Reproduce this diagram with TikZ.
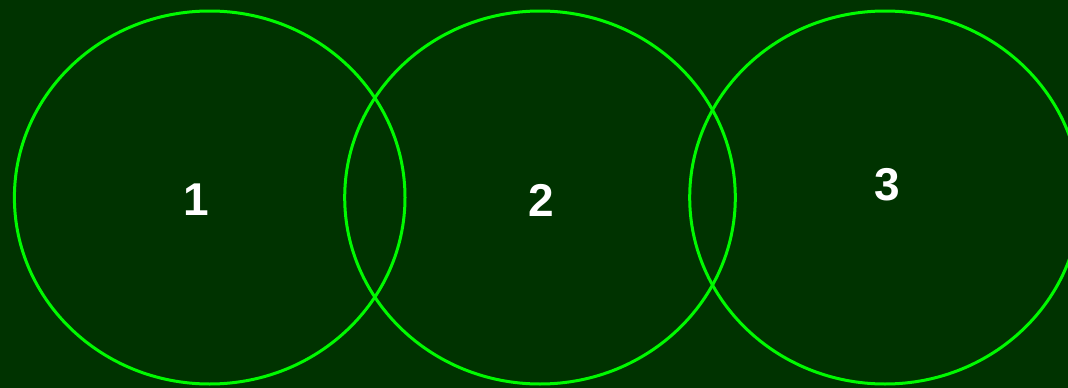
\documentclass[tikz,border=0pt]{standalone}
\usepackage{fontspec}
\setmainfont{Liberation Sans}
\usepackage{tikz}
\usetikzlibrary{positioning,calc}
\usepackage{xcolor}
\definecolor{bgdark}{RGB}{0,51,0}
\definecolor{ringgreen}{RGB}{0,250,0}

\begin{document}
\begin{tikzpicture}[x=1pt,y=-1pt,
    ring/.style={draw=ringgreen,line width=3pt},
    num/.style={text=white,font=\fontsize{46}{46}\selectfont\bfseries,inner sep=0pt}]
    % Background
    \fill[bgdark] (0,0) rectangle (1068,388);
    \useasboundingbox (0,0) rectangle (1068,388);
    \clip (0,0) rectangle (1068,388);

    % Rings
    \foreach \cx in {209.7,540,885} {
        \draw[ring] (\cx,197.5) ellipse [x radius=195.3pt, y radius=186.5pt];
    }

    % Numbers
    \node[num] (one) at (196,200) {1};
    \node[num] (two) at (541.5,200) {2};
    \node[num] (three) at (887.5,185) {3};
\end{tikzpicture}
\end{document}
